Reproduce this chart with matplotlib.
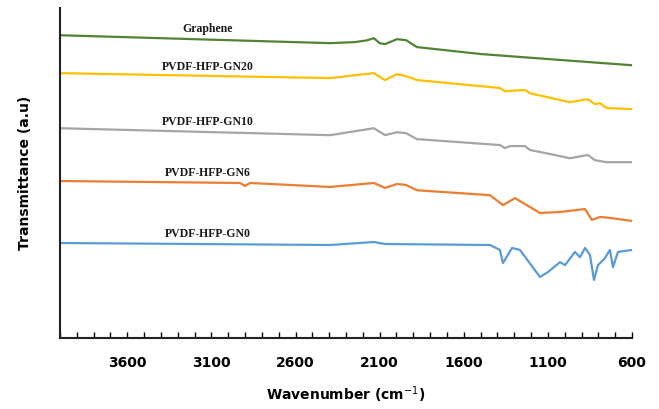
import numpy as np
import matplotlib.pyplot as plt
from matplotlib.ticker import MultipleLocator, FixedLocator

# FTIR spectra (wavenumber in cm-1, transmittance in a.u.)
wn_gr = [4000, 3000, 2395, 2250, 2180, 2134, 2100, 2068, 1997, 1943, 1878, 1500, 1000, 600]
t_gr  = [91.8, 90.3, 89.4, 89.7, 90.2, 90.9, 89.4, 89.1, 90.6, 90.3, 88.2, 86.1, 84.2, 82.7]

wn_20 = [4000, 2395, 2134, 2068, 1997, 1943, 1878, 1385, 1355, 1236, 1206, 969, 862, 820, 790, 749, 600]
t_20  = [80.3, 78.8, 80.3, 78.2, 80.0, 79.4, 78.2, 75.8, 74.8, 75.2, 74.2, 71.5, 72.4, 70.9, 71.2, 69.7, 69.4]

wn_10 = [4000, 2395, 2134, 2068, 1997, 1943, 1878, 1385, 1355, 1325, 1236, 1206, 1117, 969, 862, 820, 749, 600]
t_10  = [63.6, 61.5, 63.6, 61.5, 62.4, 62.1, 60.3, 58.5, 57.6, 58.2, 58.2, 57.0, 56.1, 54.5, 55.5, 53.9, 53.3, 53.3]

wn_6 = [4000, 2930, 2900, 2870, 2395, 2134, 2068, 1997, 1943, 1878, 1444, 1367, 1295, 1147, 1028, 879, 838, 790, 731, 600]
t_6  = [47.6, 47.0, 46.1, 47.0, 45.8, 47.0, 45.5, 46.7, 46.4, 44.8, 43.3, 40.3, 42.4, 37.9, 38.2, 39.1, 35.8, 36.7, 36.4, 35.5]

wn_0 = [4000, 2395, 2134, 2068, 1444, 1385, 1367, 1313, 1266, 1147, 1099, 1028, 998, 939, 909, 879, 850, 826, 802, 761, 731, 713, 683, 600]
t_0  = [28.8, 28.2, 29.1, 28.5, 28.2, 26.7, 22.7, 27.3, 26.7, 18.5, 20.0, 23.0, 22.1, 26.1, 24.5, 27.3, 25.2, 17.6, 22.1, 24.2, 26.7, 21.5, 26.1, 26.7]

names  = ["Graphene", "PVDF-HFP-GN20", "PVDF-HFP-GN10", "PVDF-HFP-GN6", "PVDF-HFP-GN0"]
label_y = [93.6, 82.1, 65.5, 50.0, 31.5]
colors = ["#548235", "#FFC000", "#A5A5A5", "#ED7D31", "#5B9BD5"]

series = [(wn_gr, t_gr), (wn_20, t_20), (wn_10, t_10), (wn_6, t_6), (wn_0, t_0)]

fig = plt.figure(figsize=(6.59, 4.09), dpi=100)
ax = fig.add_axes([0.091, 0.1736, 0.868, 0.8064])

for (x, y), c in zip(series, colors):
    ax.plot(x, y, color=c, lw=1.6)

for name, ly in zip(names, label_y):
    ax.text(3120, ly, name, ha="center", va="center", fontsize=8.5,
            fontweight="bold", family="Liberation Serif", color="#1a1a1a")

ax.set_xlim(4000, 600)
ax.set_ylim(0, 100)
ax.xaxis.set_major_locator(FixedLocator([3600, 3100, 2600, 2100, 1600, 1100, 600]))
ax.xaxis.set_minor_locator(MultipleLocator(100))
ax.tick_params(axis="x", which="both", direction="in", length=4, width=1,
               labelsize=10, pad=13)
for lab in ax.get_xticklabels():
    lab.set_fontweight("bold")
ax.set_yticks([])

for s in ["top", "right"]:
    ax.spines[s].set_visible(False)
for s in ["left", "bottom"]:
    ax.spines[s].set_linewidth(1.5)
    ax.spines[s].set_color("#222222")

ax.set_xlabel("Wavenumber (cm$^{-1}$)", fontsize=10, fontweight="bold", labelpad=10)
ax.set_ylabel("Transmittance (a.u)", fontsize=10, fontweight="bold", labelpad=20)

fig.savefig("out.png", dpi=100)
